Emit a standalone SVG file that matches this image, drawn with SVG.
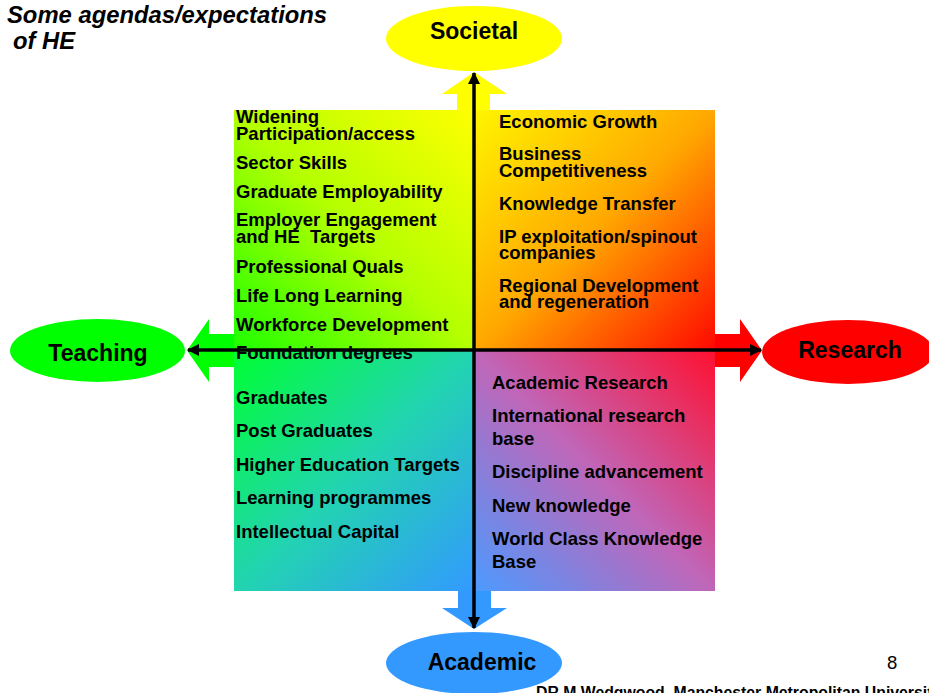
<svg xmlns="http://www.w3.org/2000/svg" width="929" height="693" viewBox="0 0 929 693">
<style>
.t{font-family:"Liberation Sans",Arial,sans-serif;font-weight:bold;font-size:18.5px;fill:#000}
.lbl{font-family:"Liberation Sans",Arial,sans-serif;font-weight:bold;font-size:23px;fill:#000;text-anchor:middle}
.title{font-family:"Liberation Sans",Arial,sans-serif;font-weight:bold;font-style:italic;font-size:23.8px;fill:#000}
.ax{stroke:#000;stroke-width:3.5;fill:none}
</style>
<defs>
<linearGradient id="gTL" x1="0" y1="1" x2="1" y2="0">
<stop offset="0" stop-color="#1EFF00"/><stop offset="0.5" stop-color="#B4FF00"/><stop offset="1" stop-color="#FFFF00"/>
</linearGradient>
<linearGradient id="gTR" x1="0" y1="0" x2="1" y2="1">
<stop offset="0" stop-color="#FFF500"/><stop offset="0.5" stop-color="#FFA800"/><stop offset="1" stop-color="#FF0800"/>
</linearGradient>
<linearGradient id="gBL" x1="0" y1="0" x2="1" y2="1">
<stop offset="0" stop-color="#00FF33"/><stop offset="0.5" stop-color="#22D4B0"/><stop offset="1" stop-color="#3399FF"/>
</linearGradient>
<linearGradient id="gBR" x1="0" y1="1" x2="1" y2="0">
<stop offset="0" stop-color="#4C9AFF"/><stop offset="0.5" stop-color="#C066B8"/><stop offset="1" stop-color="#FF1030"/>
</linearGradient>
<marker id="ah" viewBox="0 0 12 12" refX="11" refY="6" markerWidth="12" markerHeight="12" markerUnits="userSpaceOnUse" orient="auto-start-reverse">
<path d="M0,0 L12,6 L0,12 z" fill="#000"/>
</marker>
</defs>

<g id="title">
<text class="title" x="7" y="23">Some agendas/expectations</text>
<text class="title" x="13" y="49">of HE</text>
</g>

<g id="block-arrows">
<polygon points="457,112 457,94 442,94 474,72 507,94 490,94 490,112" fill="#FFFF00"/>
<polygon points="236,334 209,334 209,319 187,350.5 209,382 209,367 236,367" fill="#00FF00"/>
<polygon points="713,334 740,334 740,319 762,350.5 740,382 740,367 713,367" fill="#FF0000"/>
<polygon points="458,589 458,608 442,608 474,629 507,608 491,608 491,589" fill="#3399FF"/>
</g>

<g id="quadrant-tl">
<rect x="234" y="110" width="240" height="240" fill="url(#gTL)"/>
<text class="t" x="236" y="123">Widening</text>
<text class="t" x="236" y="140">Participation/access</text>
<text class="t" x="236" y="169">Sector Skills</text>
<text class="t" x="236" y="198">Graduate Employability</text>
<text class="t" x="236" y="226">Employer Engagement</text>
<text class="t" x="236" y="243" xml:space="preserve">and HE  Targets</text>
<text class="t" x="236" y="273">Professional Quals</text>
<text class="t" x="236" y="302">Life Long Learning</text>
<text class="t" x="236" y="331">Workforce Development</text>
</g>

<g id="quadrant-tr">
<rect x="474" y="110" width="241" height="240" fill="url(#gTR)"/>
<text class="t" x="499" y="128">Economic Growth</text>
<text class="t" x="499" y="160">Business</text>
<text class="t" x="499" y="177">Competitiveness</text>
<text class="t" x="499" y="210">Knowledge Transfer</text>
<text class="t" x="499" y="243">IP exploitation/spinout</text>
<text class="t" x="499" y="259">companies</text>
<text class="t" x="499" y="292">Regional Development</text>
<text class="t" x="499" y="308">and regeneration</text>
</g>

<g id="quadrant-bl">
<rect x="234" y="350" width="240" height="241" fill="url(#gBL)"/>
<text class="t" x="236" y="359">Foundation degrees</text>
<text class="t" x="236" y="404">Graduates</text>
<text class="t" x="236" y="437">Post Graduates</text>
<text class="t" x="236" y="471">Higher Education Targets</text>
<text class="t" x="236" y="504">Learning programmes</text>
<text class="t" x="236" y="538">Intellectual Capital</text>
</g>

<g id="quadrant-br">
<rect x="474" y="350" width="241" height="241" fill="url(#gBR)"/>
<text class="t" x="492" y="389">Academic Research</text>
<text class="t" x="492" y="422">International research</text>
<text class="t" x="492" y="445">base</text>
<text class="t" x="492" y="478">Discipline advancement</text>
<text class="t" x="492" y="512">New knowledge</text>
<text class="t" x="492" y="545">World Class Knowledge</text>
<text class="t" x="492" y="568">Base</text>
</g>

<g id="societal">
<ellipse cx="474" cy="38.5" rx="88" ry="32.5" fill="#FFFF00"/>
<text class="lbl" x="474" y="39">Societal</text>
</g>
<g id="teaching">
<ellipse cx="97.5" cy="350.5" rx="87.5" ry="31.5" fill="#00FF00"/>
<text class="lbl" x="98" y="361">Teaching</text>
</g>
<g id="research">
<ellipse cx="848" cy="352" rx="86" ry="32" fill="#FF0000"/>
<text class="lbl" x="850" y="358">Research</text>
</g>
<g id="academic">
<ellipse cx="474" cy="663" rx="88" ry="31" fill="#3399FF"/>
<text class="lbl" x="482" y="670">Academic</text>
</g>

<g id="connectors">
<line class="ax" x1="474" y1="628" x2="474" y2="73" marker-start="url(#ah)" marker-end="url(#ah)"/>
<line class="ax" x1="188" y1="350" x2="761" y2="350" marker-start="url(#ah)" marker-end="url(#ah)"/>
</g>

<g id="footer">
<text x="887" y="669" style="font-family:'Liberation Sans',Arial,sans-serif;font-size:18.5px;fill:#000">8</text>
<text x="536" y="698" style="font-family:'Liberation Sans',Arial,sans-serif;font-weight:bold;font-size:15.8px;fill:#000">DR M Wedgwood, Manchester Metropolitan University</text>
</g>
</svg>
